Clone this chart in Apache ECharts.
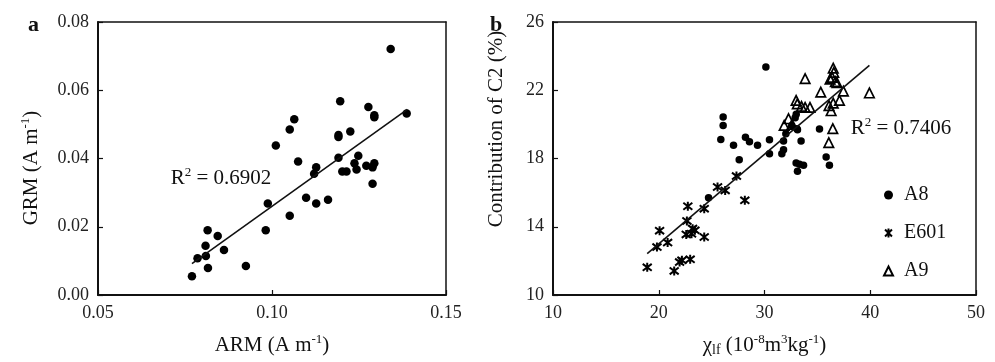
<!DOCTYPE html>
<html>
<head>
<meta charset="utf-8">
<script src="https://cdn.jsdelivr.net/npm/echarts@6/dist/echarts.min.js"></script>
<style>
  html, body { margin: 0; padding: 0; background: #fff; }
  #chart { width: 995px; height: 362px; }
</style>
</head>
<body>
<div id="chart"></div>
<script>
// panel a: ARM vs GRM
const armVals = [0.0770, 0.0786, 0.0810, 0.0809, 0.0815, 0.0816, 0.0844, 0.0862, 0.0925, 0.0982,
  0.0988, 0.1011, 0.1051, 0.1051, 0.1064, 0.1075, 0.1098, 0.1121, 0.1127, 0.1127,
  0.1161, 0.1191, 0.1191, 0.1191, 0.1196, 0.1202, 0.1214, 0.1225, 0.1237, 0.1243,
  0.1248, 0.1271, 0.1277, 0.1289, 0.1289, 0.1294, 0.1294, 0.1294, 0.1341, 0.1387]
const grmVals = [0.0055, 0.0108, 0.0114, 0.0144, 0.0190, 0.0079, 0.0173, 0.0132, 0.0085, 0.0190,
  0.0268, 0.0438, 0.0232, 0.0485, 0.0515, 0.0391, 0.0285, 0.0355, 0.0374, 0.0268,
  0.0279, 0.0402, 0.0463, 0.0469, 0.0568, 0.0362, 0.0362, 0.0479, 0.0386, 0.0368,
  0.0408, 0.0379, 0.0551, 0.0326, 0.0374, 0.0386, 0.0527, 0.0521, 0.0721, 0.0532]
const fitA_x = [0.0770, 0.1389]
const fitA_y = [0.0092, 0.0544]

// panel b: chi_lf vs contribution of C2
const a8Chi = [30.13, 26.09, 26.09, 25.87, 27.07, 27.61, 28.20, 28.58, 29.34, 30.47,
  30.47, 24.71, 31.64, 31.80, 31.80, 32.02, 32.58, 32.90, 33.06, 33.12,
  33.46, 35.20, 32.99, 33.69, 33.12, 33.31, 35.83, 36.14, 33.00]
const a8C2 = [23.36, 20.43, 19.94, 19.12, 18.77, 17.93, 19.24, 18.98, 18.77, 19.10,
  18.28, 15.70, 18.28, 18.52, 19.02, 19.45, 19.94, 20.39, 19.75, 19.69,
  19.02, 19.73, 17.73, 17.60, 17.25, 17.66, 18.09, 17.60, 20.60]
const e601Chi = [18.91, 19.83, 20.08, 20.84, 21.46, 21.97, 22.19, 22.97, 22.75, 22.66,
  22.60, 23.20, 23.42, 23.10, 24.30, 24.30, 25.56, 26.28, 27.35, 28.14]
const e601C2 = [11.62, 12.81, 13.77, 13.07, 11.41, 11.93, 12.03, 12.09, 15.20, 14.34,
  13.55, 13.89, 13.79, 13.59, 13.40, 15.06, 16.33, 16.13, 16.97, 15.55]
const a9Chi = [33.84, 35.32, 39.92, 37.46, 37.09, 36.50, 36.55, 36.40, 36.70, 36.20,
  36.85, 36.10, 36.30, 36.50, 36.46, 36.08, 32.99, 33.10, 33.50, 33.84,
  34.30, 32.27, 31.86, 32.60]
const a9C2 = [22.68, 21.89, 21.84, 21.95, 21.41, 23.30, 23.05, 22.75, 22.50, 22.65,
  22.45, 21.10, 20.80, 21.25, 19.75, 18.93, 21.41, 21.20, 21.05, 21.00,
  21.00, 20.33, 19.94, 20.00]
const fitB_x = [18.91, 39.92]
const fitB_y = [12.42, 23.46]

const zip = (xs, ys) => xs.map((x, i) => [x, ys[i]])

const FONT = 'Liberation Serif'
const INK = '#111'
const STAR = 'path://M0,0L10,10M10,0L0,10M5,-1.5L5,11.5'

const supRich = {
  sup: { fontSize: 13, fontFamily: FONT, color: INK, verticalAlign: 'top', lineHeight: 14 },
  sub: { fontSize: 14, fontFamily: FONT, color: INK, verticalAlign: 'bottom', lineHeight: 12 }
}

function makeX(idx, min, max, interval, digits, name) {
  return {
    gridIndex: idx, type: 'value', min: min, max: max, interval: interval,
    splitLine: { show: false },
    axisLine: { lineStyle: { color: INK, width: 2 } },
    axisTick: { inside: true, length: 5, lineStyle: { color: INK, width: 1.2 } },
    axisLabel: {
      fontFamily: FONT, fontSize: 18, color: '#222', margin: 9,
      formatter: v => v.toFixed(digits)
    },
    name: name, nameLocation: 'middle', nameGap: 38,
    nameTextStyle: { fontFamily: FONT, fontSize: 21, color: INK, lineHeight: 24, rich: supRich }
  }
}

function makeY(idx, min, max, interval, digits) {
  return {
    gridIndex: idx, type: 'value', min: min, max: max, interval: interval,
    splitLine: { show: false },
    axisLine: { lineStyle: { color: INK, width: 2 } },
    axisTick: { inside: true, length: 5, lineStyle: { color: INK, width: 1.2 } },
    axisLabel: {
      fontFamily: FONT, fontSize: 18, color: '#222', margin: 9,
      formatter: v => v.toFixed(digits)
    }
  }
}

// plain frame lines for the top and right sides of each box
function frame(kind, idx, min, max) {
  return {
    gridIndex: idx, type: 'value', min: min, max: max,
    position: kind === 'x' ? 'top' : 'right',
    splitLine: { show: false }, axisTick: { show: false }, axisLabel: { show: false },
    axisLine: { onZero: false, lineStyle: { color: INK, width: 1.5 } }
  }
}

function label(x, y, text, opts) {
  return Object.assign({
    type: 'text', x: x, y: y,
    style: {
      text: text, fontFamily: FONT, fontSize: 21, fill: INK,
      align: 'center', verticalAlign: 'middle', lineHeight: 24,
      rich: {
        sup: { fontSize: 13, fontFamily: FONT, fill: INK, verticalAlign: 'top', lineHeight: 14 }
      }
    }
  }, opts || {})
}

const chart = echarts.init(document.getElementById('chart'), null, { renderer: 'canvas' })

const option = {
  backgroundColor: '#fff',
  animation: false,
  grid: [
    { left: 98, top: 22, width: 348, height: 273 },
    { left: 553, top: 22, width: 423, height: 273 }
  ],
  xAxis: [
    makeX(0, 0.05, 0.15, 0.05, 2, 'ARM (A m{sup|-1})'),
    makeX(1, 10, 50, 10, 0, 'χ{sub|lf} (10{sup|-8}m{sup|3}kg{sup|-1})'),
    frame('x', 0, 0.05, 0.15),
    frame('x', 1, 10, 50)
  ],
  yAxis: [
    makeY(0, 0, 0.08, 0.02, 2),
    makeY(1, 10, 26, 4, 0),
    frame('y', 0, 0, 0.08),
    frame('y', 1, 10, 26)
  ],
  legend: {
    data: ['A8', 'E601', 'A9'],
    orient: 'vertical',
    left: 878, top: 180,
    itemWidth: 9, itemHeight: 9, itemGap: 18,
    textStyle: { fontFamily: FONT, fontSize: 20, color: INK, padding: [0, 0, 0, 6] }
  },
  graphic: [
    { type: 'text', left: 28, top: 14, style: { text: 'a', fontFamily: FONT, fontSize: 22, fontWeight: 'bold', fill: INK } },
    { type: 'text', left: 490, top: 14, style: { text: 'b', fontFamily: FONT, fontSize: 22, fontWeight: 'bold', fill: INK } },
    label(31, 168, 'GRM (A m{sup|-1})', { rotation: Math.PI / 2 }),
    label(496, 129, 'Contribution of C2 (%)', { rotation: Math.PI / 2 }),
    label(221, 178, 'R{sup|2} = 0.6902'),
    label(901, 128, 'R{sup|2} = 0.7406')
  ],
  series: [
    {
      name: 'GRM', type: 'scatter', xAxisIndex: 0, yAxisIndex: 0,
      data: zip(armVals, grmVals),
      symbol: 'circle', symbolSize: 8.5,
      itemStyle: { color: '#000', opacity: 1 }
    },
    {
      name: 'fitA', type: 'line', xAxisIndex: 0, yAxisIndex: 0,
      data: zip(fitA_x, fitA_y), showSymbol: false, silent: true,
      lineStyle: { color: INK, width: 1.6 }
    },
    {
      name: 'A8', type: 'scatter', xAxisIndex: 1, yAxisIndex: 1,
      data: zip(a8Chi, a8C2),
      symbol: 'circle', symbolSize: 7.5,
      itemStyle: { color: '#000', opacity: 1 }
    },
    {
      name: 'E601', type: 'scatter', xAxisIndex: 1, yAxisIndex: 1,
      data: zip(e601Chi, e601C2),
      symbol: STAR, symbolSize: 9,
      itemStyle: { color: 'rgba(0,0,0,0)', borderColor: '#000', borderWidth: 2, opacity: 1 }
    },
    {
      name: 'A9', type: 'scatter', xAxisIndex: 1, yAxisIndex: 1,
      data: zip(a9Chi, a9C2),
      symbol: 'triangle', symbolSize: 9.5,
      itemStyle: { color: 'rgba(0,0,0,0)', borderColor: '#000', borderWidth: 1.7, opacity: 1 }
    },
    {
      name: 'fitB', type: 'line', xAxisIndex: 1, yAxisIndex: 1,
      data: zip(fitB_x, fitB_y), showSymbol: false, silent: true,
      lineStyle: { color: INK, width: 1.6 }
    }
  ]
}

chart.setOption(option)
</script>
</body>
</html>
